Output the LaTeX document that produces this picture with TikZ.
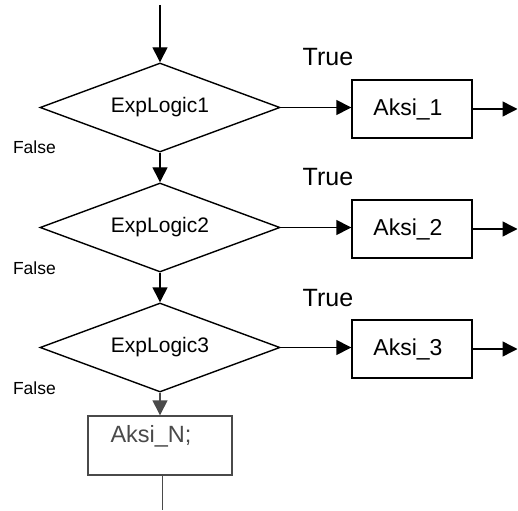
\documentclass[tikz,border=0pt]{standalone}
\usepackage{fontspec}
\setmainfont{Liberation Sans}
\usetikzlibrary{shapes.geometric,arrows.meta}
\definecolor{fadedink}{HTML}{4A4A4A}
\begin{document}
\begin{tikzpicture}[x=1pt,y=-1pt,
  line width=1.4pt,
  decision/.style={draw, diamond, aspect=2.7, inner sep=0pt,
    minimum width=240pt, minimum height=89pt,
    font=\fontsize{21}{24}\selectfont},
  action/.style={draw, rectangle, inner sep=0pt,
    minimum width=120pt, minimum height=58pt,
    font=\fontsize{23}{26}\selectfont,
    execute at begin node={\hspace*{-8pt}}},
  flow/.style={-{Triangle[length=15pt,width=15pt]}},
  truelbl/.style={font=\fontsize{25}{28}\selectfont, anchor=base west, inner sep=0pt},
  falselbl/.style={font=\fontsize{17.5}{20}\selectfont, anchor=base west, inner sep=0pt},
]
\useasboundingbox (0,0) rectangle (518,510);

% entry point
\coordinate (start) at (160,5);

% chain of conditions
\node[decision] (d1) at (160,107.5) {ExpLogic1};
\node[decision] (d2) at (160,227.5) {ExpLogic2};
\node[decision] (d3) at (160,347.5) {ExpLogic3};

% actions on the true branches
\node[action] (a1) at (412,109) {Aksi\_1};
\node[action] (a2) at (412,229) {Aksi\_2};
\node[action] (a3) at (412,349) {Aksi\_3};

% exits to the right
\coordinate (o1) at (517.5,109);
\coordinate (o2) at (517.5,229);
\coordinate (o3) at (517.5,349);

% default action
\node[draw=fadedink, rectangle, inner sep=0pt, minimum width=144pt,
      minimum height=59pt] (aN) at (160,445.5) {};
\node[text=fadedink, font=\fontsize{23.5}{26}\selectfont, anchor=base,
      inner sep=0pt] (aNtext) at (151,442.7) {Aksi\_N;};
\coordinate (nOut) at (162.5,475);
\coordinate (nEnd) at (162.5,510);

% branch labels
\node[truelbl] (t1) at (302,66) {True};
\node[truelbl] (t2) at (302,186) {True};
\node[truelbl] (t3) at (302,306) {True};
\node[falselbl] (f1) at (12.3,154) {False};
\node[falselbl] (f2) at (12.3,274) {False};
\node[falselbl] (f3) at (12.3,394) {False};

% connectors
\draw[flow] (start) -- (d1.north);
\draw[flow] (d1.south) -- (d2.north);
\draw[flow] (d2.south) -- (d3.north);
\draw[flow, draw=fadedink, fill=fadedink] (d3.south) -- (aN.north);

\draw[flow] (d1.east) -- (d1.east -| a1.west);
\draw[flow] (d2.east) -- (d2.east -| a2.west);
\draw[flow] (d3.east) -- (d3.east -| a3.west);

\draw[flow] (a1.east) -- (o1);
\draw[flow] (a2.east) -- (o2);
\draw[flow] (a3.east) -- (o3);

\draw[draw=fadedink] (nOut) -- (nEnd);
\end{tikzpicture}
\end{document}
